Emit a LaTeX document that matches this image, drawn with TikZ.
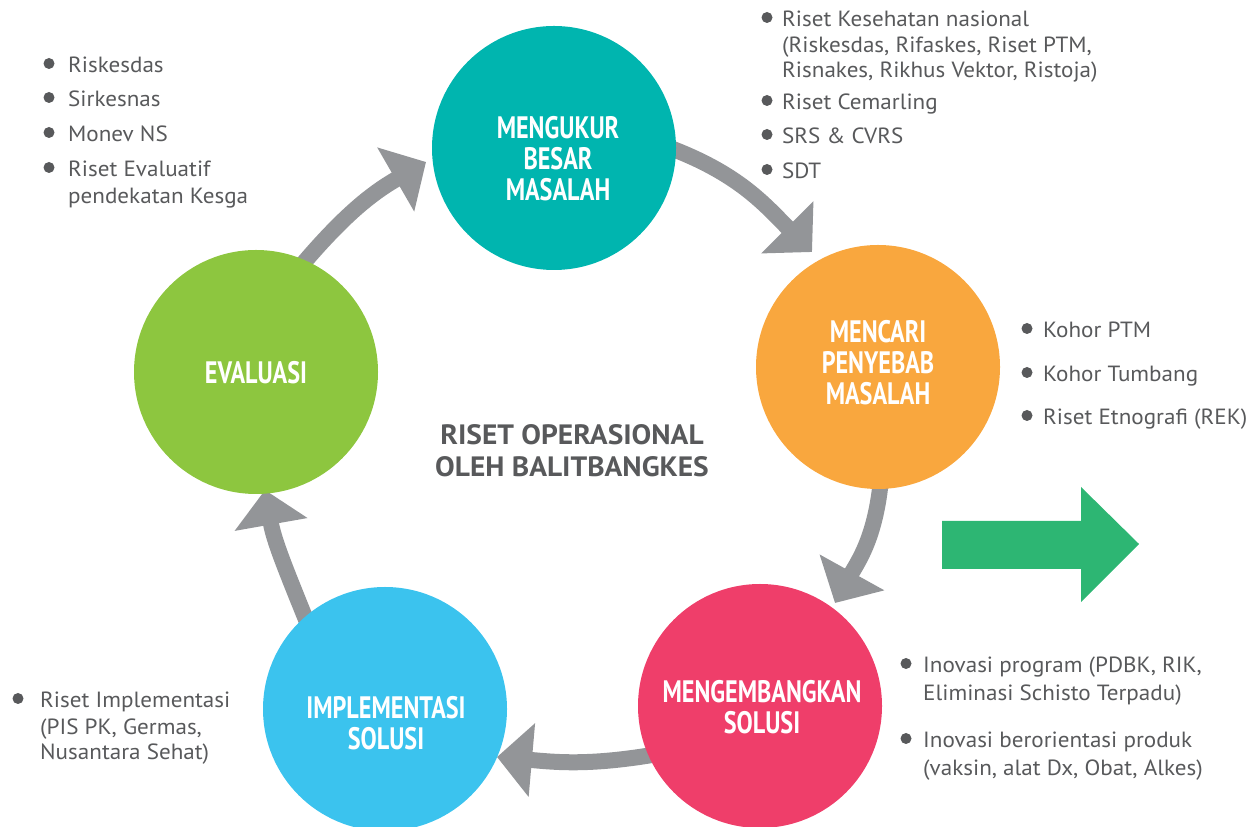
\documentclass[tikz,border=0pt]{standalone}
\usepackage{fontspec}
\setmainfont[FakeStretch=1.05]{PT Sans}
\newfontfamily\labelfont[FakeStretch=0.78]{PT Sans}
\usetikzlibrary{arrows.meta}
\definecolor{cteal}{HTML}{00B5AF}
\definecolor{corange}{HTML}{F9A73E}
\definecolor{cpink}{HTML}{EF3E6A}
\definecolor{cblue}{HTML}{3BC3EE}
\definecolor{cgreen}{HTML}{8DC63F}
\definecolor{cgray}{HTML}{939598}
\definecolor{cgarrow}{HTML}{2DB673}
\definecolor{ctext}{HTML}{58595B}
\pgfdeclarelayer{bg}\pgfsetlayers{bg,main}
\begin{document}
\begin{tikzpicture}[x=1pt,y=1pt,
  circ/.style={circle, minimum size=244pt, inner sep=0pt, fill=#1},
  lbl/.style={text=white, font=\labelfont\bfseries\fontsize{31}{31}\selectfont, align=center, inner sep=0pt},
  cyc/.style={draw=cgray, line width=16pt, shorten <=-12pt, -{Triangle[length=35pt,width=72pt]}},
  txt/.style={anchor=base west, text=ctext, font=\fontsize{22}{26}\selectfont, inner sep=0pt},
  dot/.style={circle, fill=ctext, minimum size=11pt, inner sep=0pt},
  title/.style={text=ctext, font=\bfseries\fontsize{28}{32}\selectfont, align=center, inner sep=0pt}
]
\useasboundingbox (0,0) rectangle (1250,827);

% circles
\node[circ=cteal]   (ukur) at (554,679) {};
\node[circ=corange] (cari) at (878,460) {};
\node[circ=cpink]   (kemb) at (760,121) {};
\node[circ=cblue]   (impl) at (385,118) {};
\node[circ=cgreen]  (eval) at (256,455) {};

\node[lbl] (ukurT) at (558,668) {MENGUKUR\\BESAR\\MASALAH};
\node[lbl] (cariT) at (878,464) {MENCARI\\PENYEBAB\\MASALAH};
\node[lbl] (kembT) at (762,120) {MENGEMBANGKAN\\SOLUSI};
\node[lbl] (implT) at (386,104) {IMPLEMENTASI\\SOLUSI};
\node[lbl] (evalT) at (256,454) {EVALUASI};

\node[title] (center) at (572,376) {RISET OPERASIONAL\\OLEH BALITBANGKES};

% cycle arrows
\coordinate (t1) at (812,575);
\coordinate (t2) at (835,224);
\coordinate (t3) at (497,70);
\coordinate (t4) at (265,337);
\coordinate (t5) at (426,665);
\begin{pgfonlayer}{bg}
\draw[cyc] (ukur.-1) to[out=-20,in=135] (t1);
\draw[cyc] (cari.-89) to[out=-95,in=61] (t2);
\draw[cyc] (kemb.-156) to[out=190,in=-5] (t3);
\draw[cyc] (impl.131) to[out=112,in=-80] (t4);
\draw[cyc] (eval.66) to[out=50,in=-150] (t5);
\end{pgfonlayer}

% green arrow
\fill[cgarrow] (942,306) -- (1081,306) -- (1081,340) -- (1139,283) -- (1081,225) -- (1081,258) -- (942,258) -- cycle;

% top-left list
\node[dot] (d11) at (49,763.5) {};
\node[txt] (l11) at (68,754) {Riskesdas};
\node[dot] (d12) at (49,729.5) {};
\node[txt] (l12) at (68,720) {Sirkesnas};
\node[dot] (d13) at (49,694.5) {};
\node[txt] (l13) at (68,685) {Monev NS};
\node[dot] (d14) at (49,659.5) {};
\node[txt] (l14) at (68,650) {Riset Evaluatif};
\node[txt] (l15) at (68,623) {pendekatan Kesga};

% top-right list
\node[dot] (d21) at (767,809.5) {};
\node[txt] (l21) at (782,800) {Riset Kesehatan nasional};
\node[txt] (l22) at (782,774) {(Riskesdas, Rifaskes, Riset PTM,};
\node[txt] (l23) at (782,749) {Risnakes, Rikhus Vektor, Ristoja)};
\node[dot] (d24) at (767,726.5) {};
\node[txt] (l24) at (782,717) {Riset Cemarling};
\node[dot] (d25) at (767,692.5) {};
\node[txt] (l25) at (782,683) {SRS \& CVRS};
\node[dot] (d26) at (767,657.5) {};
\node[txt] (l26) at (782,648) {SDT};

% right list
\node[dot] (d31) at (1027,498.5) {};
\node[txt] (l31) at (1043,489) {Kohor PTM};
\node[dot] (d32) at (1027,454.5) {};
\node[txt] (l32) at (1043,445) {Kohor Tumbang};
\node[dot] (d33) at (1027,411.5) {};
\node[txt] (l33) at (1043,402) {Riset Etnografi (REK)};

% bottom-right list
\node[dot] (d41) at (906,163.5) {};
\node[txt] (l41) at (923,154) {Inovasi program (PDBK, RIK,};
\node[txt] (l42) at (923,126) {Eliminasi Schisto Terpadu)};
\node[dot] (d43) at (906,88.5) {};
\node[txt] (l43) at (923,79) {Inovasi berorientasi produk};
\node[txt] (l44) at (923,51) {(vaksin, alat Dx, Obat, Alkes)};

% bottom-left list
\node[dot] (d51) at (18,128.5) {};
\node[txt] (l51) at (40,119) {Riset Implementasi};
\node[txt] (l52) at (40,92) {(PIS PK, Germas,};
\node[txt] (l53) at (40,67) {Nusantara Sehat)};
\end{tikzpicture}
\end{document}
